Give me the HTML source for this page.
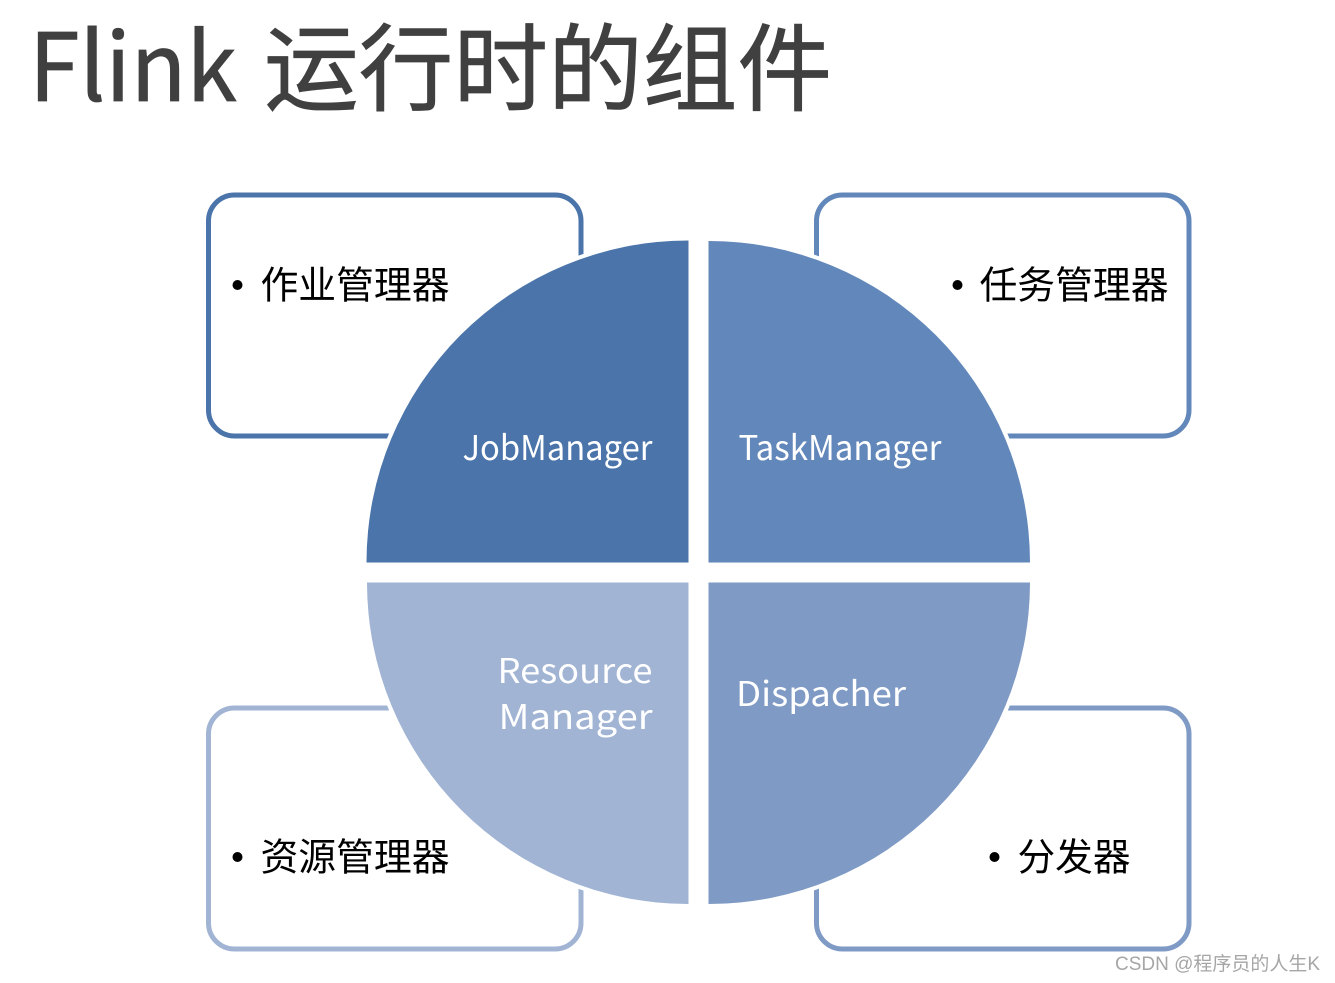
<!DOCTYPE html>
<html><head><meta charset="utf-8"><style>
html,body{margin:0;padding:0;background:#fff}
svg{display:block}
.cn{font-family:"Liberation Sans","Noto Sans CJK SC",sans-serif;font-size:38px;fill:#000}
.w{font-family:"Noto Sans CJK SC",sans-serif;font-size:34px;fill:#fff}
.t{font-family:"Noto Sans CJK SC",sans-serif;fill:#404040;stroke:#404040;stroke-width:.8px}
</style></head><body>
<svg width="1335" height="983" viewBox="0 0 1335 983" xmlns="http://www.w3.org/2000/svg">
<text class="t" x="29" y="101" font-size="94" textLength="208" lengthAdjust="spacingAndGlyphs">Flink</text>
<text class="t" x="264" y="103" font-size="95" textLength="568" lengthAdjust="spacingAndGlyphs">运行时的组件</text>

<g fill="#fff" stroke-width="5">
<rect x="208.500" y="195" width="372.500" height="241" rx="26" stroke="#4a74aa"/>
<rect x="816.500" y="195" width="372.500" height="241" rx="26" stroke="#6287ba"/>
<rect x="208.500" y="708" width="372.500" height="241" rx="26" stroke="#a1b4d4"/>
<rect x="816.500" y="708" width="372.500" height="241" rx="26" stroke="#7f9ac4"/>
</g>

<g stroke="#fff" stroke-width="8">
<path d="M688.500 562.500H366.500A322 322 0 0 1 688.500 240.500Z"/>
<path d="M708.500 562.500V241A321.500 321.500 0 0 1 1030 562.500Z"/>
<path d="M688.500 582.500V904A321.500 321.500 0 0 1 367 582.500Z"/>
<path d="M708.500 582.500H1030A321.500 321.500 0 0 1 708.500 904Z"/>
</g>
<path d="M688.500 562.500H366.500A322 322 0 0 1 688.500 240.500Z" fill="#4a74aa"/>
<path d="M708.500 562.500V241A321.500 321.500 0 0 1 1030 562.500Z" fill="#6287ba"/>
<path d="M688.500 582.500V904A321.500 321.500 0 0 1 367 582.500Z" fill="#a1b4d4"/>
<path d="M708.500 582.500H1030A321.500 321.500 0 0 1 708.500 904Z" fill="#7f9ac4"/>

<text class="w" x="462.500" y="460" textLength="190" lengthAdjust="spacingAndGlyphs">JobManager</text>
<text class="w" x="738.500" y="460" textLength="203" lengthAdjust="spacingAndGlyphs">TaskManager</text>
<text class="w" x="497.500" y="683" textLength="155" lengthAdjust="spacingAndGlyphs">Resource</text>
<text class="w" x="498.500" y="729" textLength="154" lengthAdjust="spacingAndGlyphs">Manager</text>
<text class="w" x="736" y="706" textLength="170" lengthAdjust="spacingAndGlyphs">Dispacher</text>

<g fill="#000">
<circle cx="237.500" cy="285" r="5"/>
<circle cx="957.500" cy="285" r="5"/>
<circle cx="237.500" cy="857" r="5"/>
<circle cx="994.500" cy="857" r="5"/>
</g>
<text class="cn" x="260.500" y="298.500" textLength="189" lengthAdjust="spacingAndGlyphs">作业管理器</text>
<text class="cn" x="979.500" y="298.500" textLength="189" lengthAdjust="spacingAndGlyphs">任务管理器</text>
<text class="cn" x="260.500" y="870.500" textLength="189" lengthAdjust="spacingAndGlyphs">资源管理器</text>
<text class="cn" x="1017.500" y="870.500" textLength="113" lengthAdjust="spacingAndGlyphs">分发器</text>

<text x="1115" y="970" textLength="205" lengthAdjust="spacingAndGlyphs" font-size="19" fill="#a6a6a6" font-family="'Liberation Sans','Noto Sans CJK SC',sans-serif">CSDN @程序员的人生K</text>
</svg>
</body></html>
